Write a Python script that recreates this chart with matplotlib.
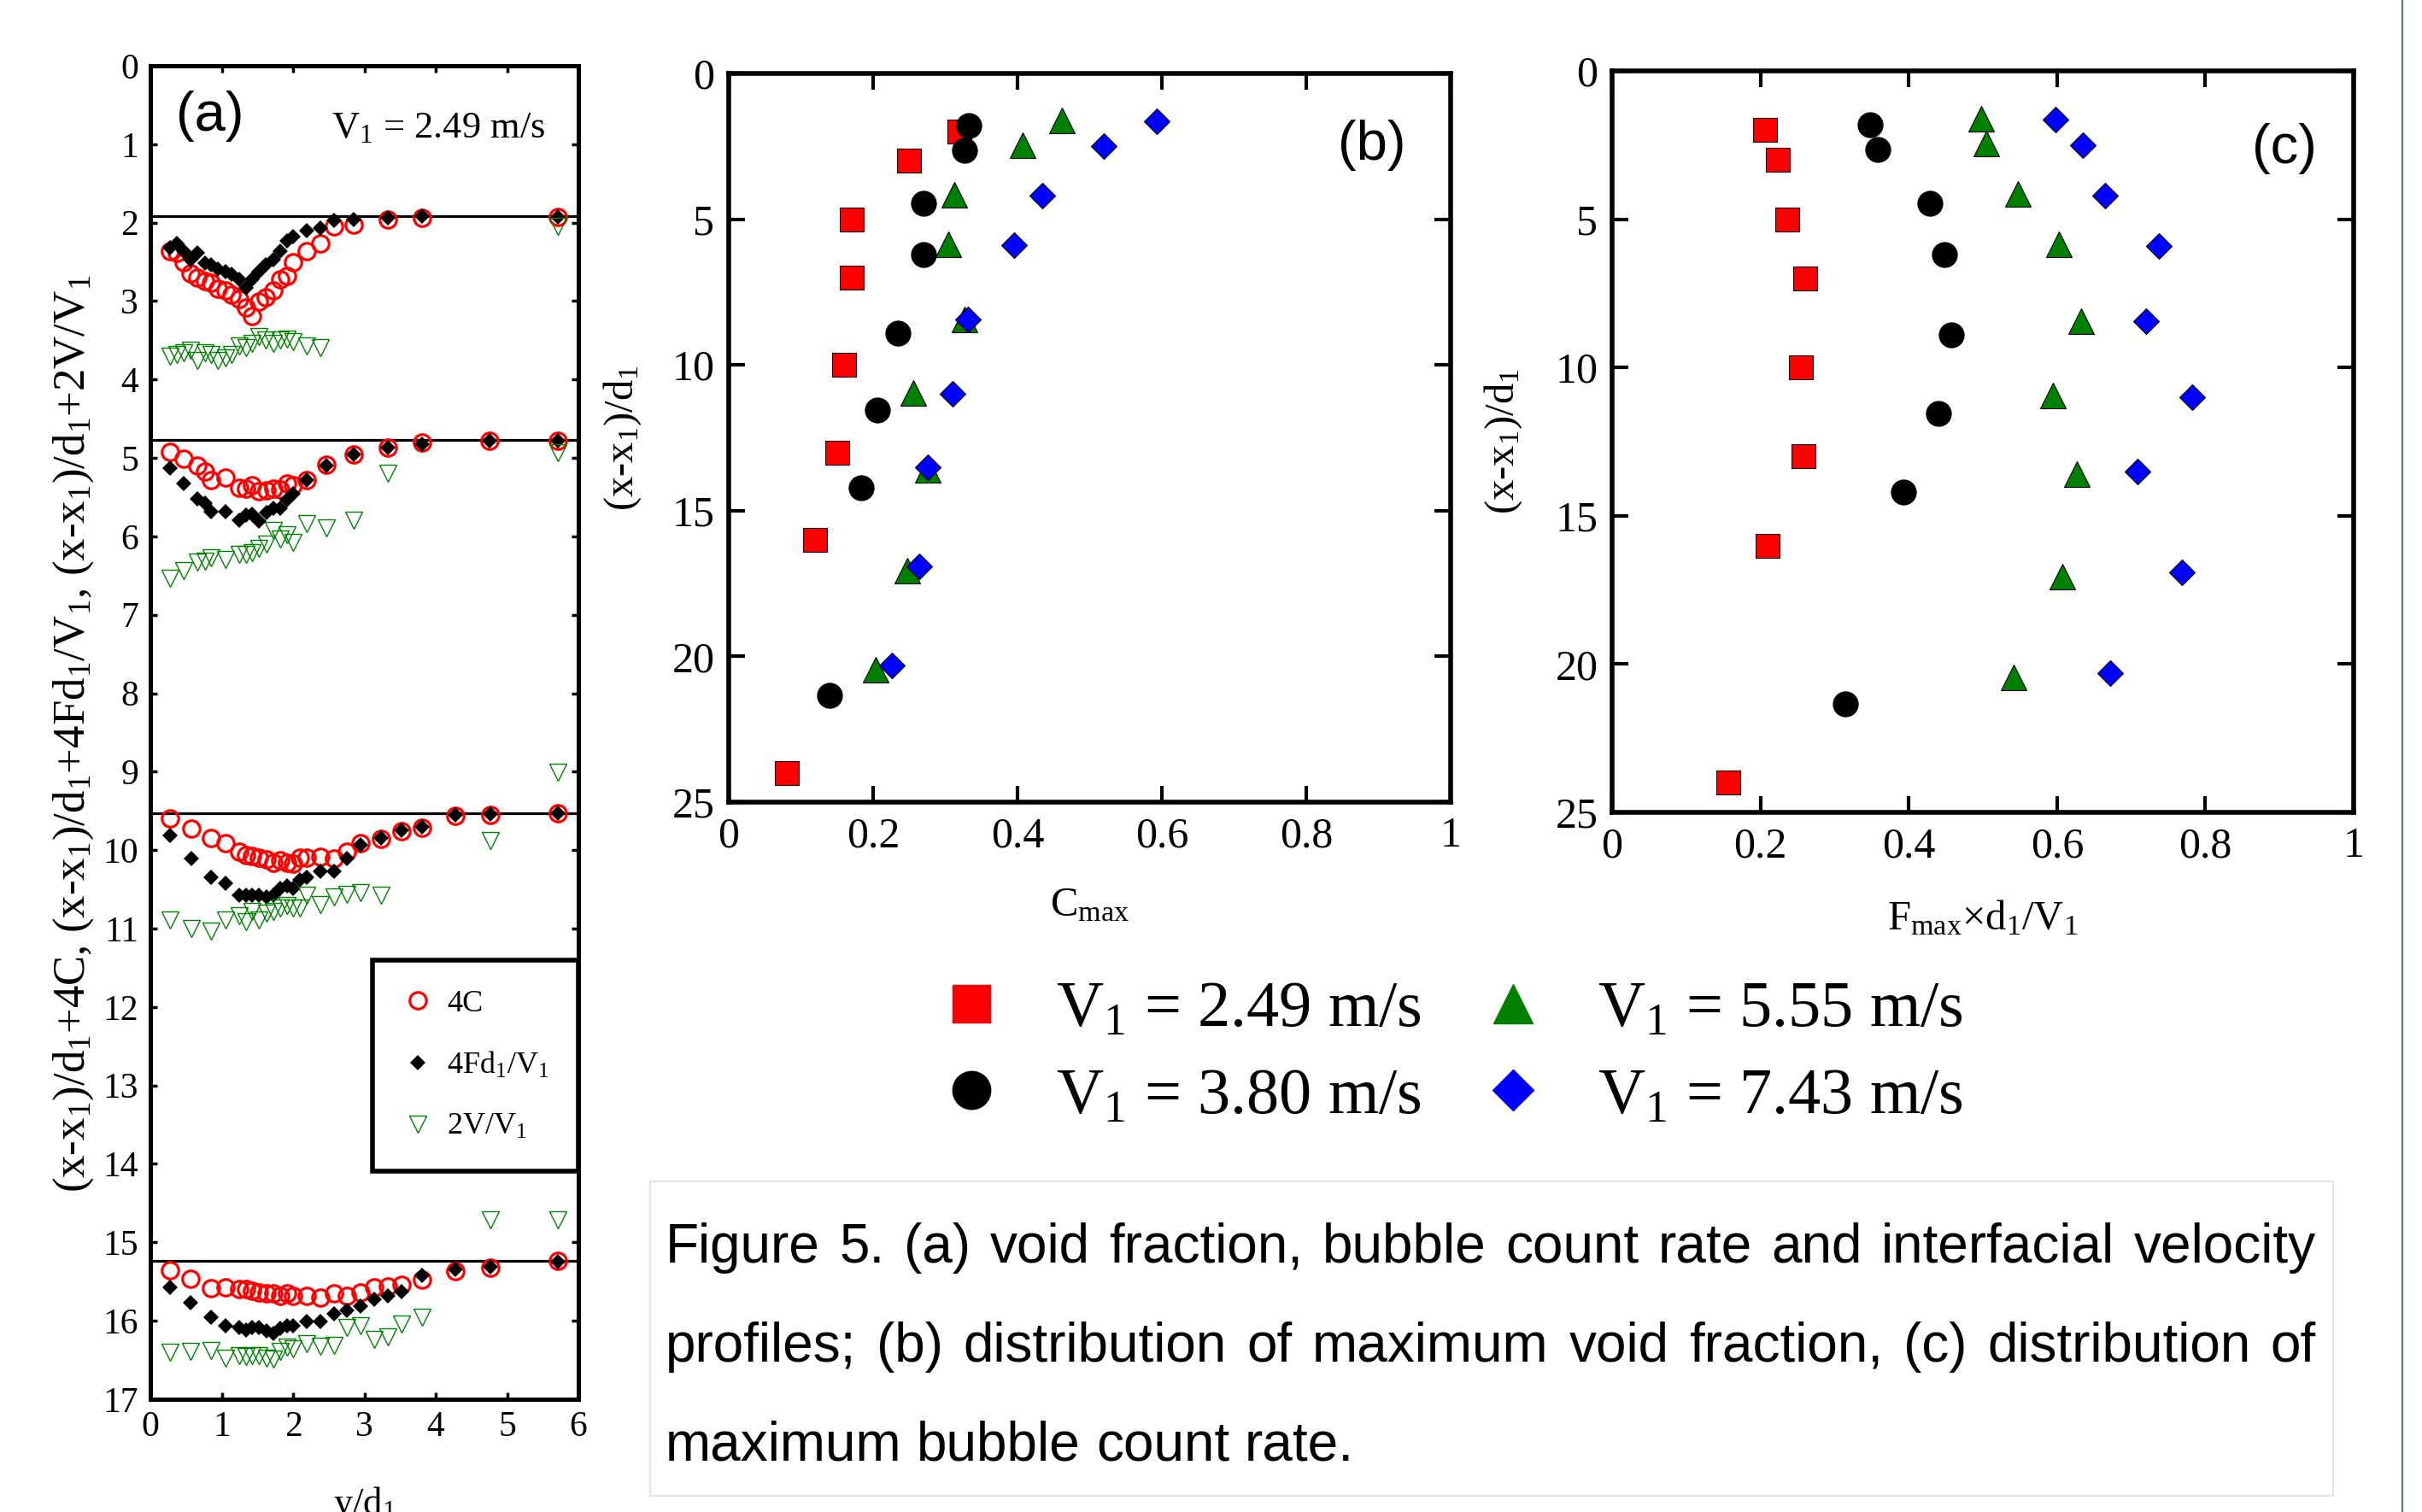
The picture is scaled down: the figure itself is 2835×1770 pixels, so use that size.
import matplotlib
matplotlib.use('Agg')
import matplotlib.pyplot as plt
from matplotlib.lines import Line2D
from matplotlib.patches import Rectangle

# Fig. 5 : profiles (a), max void fraction (b), max bubble count rate (c)

# ---- panel (a) data, vertical values are already
# (x-x1)/d1 + 4C, + 4Fd1/V1, + 2V/V1
baselines = [1.92, 4.77, 9.53, 15.24]

p1_pos = [0.27, 0.37, 0.47, 0.56, 0.66, 0.76, 0.85, 0.95, 1.05, 1.14, 1.24, 1.34, 1.43,
          1.52, 1.62, 1.72, 1.82, 1.91, 2.0, 2.19, 2.38, 2.57, 2.85, 3.33, 3.81, 5.71]
p1_c = [2.36, 2.39, 2.50, 2.65, 2.70, 2.74, 2.77, 2.84, 2.86, 2.92, 2.97, 3.08, 3.19,
        3.01, 2.95, 2.86, 2.72, 2.68, 2.50, 2.36, 2.27, 2.05, 2.03, 1.96, 1.94, 1.93]
p1_f = [2.32, 2.27, 2.36, 2.47, 2.39, 2.52, 2.54, 2.59, 2.63, 2.66, 2.72, 2.83, 2.72,
        2.63, 2.54, 2.47, 2.36, 2.23, 2.18, 2.10, 2.07, 1.97, 1.96, 1.94, 1.92, 1.93]
p1_vpos = [0.27, 0.37, 0.47, 0.56, 0.66, 0.76, 0.85, 0.95, 1.05, 1.14, 1.24, 1.34, 1.43,
           1.52, 1.62, 1.72, 1.82, 1.91, 2.0, 2.19, 2.38, 5.71]
p1_v = [3.70, 3.68, 3.66, 3.63, 3.76, 3.66, 3.68, 3.76, 3.72, 3.68, 3.57, 3.59, 3.54,
        3.45, 3.50, 3.54, 3.50, 3.48, 3.52, 3.57, 3.59, 2.05]

p2_pos = [0.28, 0.47, 0.66, 0.76, 0.85, 1.05, 1.24, 1.34, 1.43, 1.52, 1.63, 1.72, 1.82,
          1.91, 2.0, 2.19, 2.47, 2.85, 3.33, 3.81, 4.76, 5.71]
p2_c = [4.92, 5.01, 5.10, 5.17, 5.28, 5.25, 5.38, 5.39, 5.35, 5.42, 5.41, 5.39, 5.40,
        5.33, 5.35, 5.28, 5.09, 4.95, 4.87, 4.80, 4.78, 4.78]
p2_f = [5.13, 5.33, 5.52, 5.58, 5.68, 5.68, 5.79, 5.73, 5.72, 5.81, 5.70, 5.64, 5.64,
        5.53, 5.46, 5.28, 5.10, 4.95, 4.87, 4.82, 4.78, 4.78]
p2_vpos = [0.28, 0.47, 0.66, 0.76, 0.85, 1.05, 1.24, 1.34, 1.43, 1.52, 1.63, 1.72, 1.82,
           1.91, 2.0, 2.19, 2.47, 2.85, 3.33, 5.71]
p2_v = [6.53, 6.44, 6.33, 6.32, 6.27, 6.29, 6.23, 6.23, 6.21, 6.15, 6.10, 5.93, 6.03,
        5.98, 6.08, 5.84, 5.89, 5.79, 5.20, 4.93]

p3_pos = [0.28, 0.57, 0.85, 1.05, 1.24, 1.34, 1.43, 1.52, 1.63, 1.72, 1.82, 1.91, 2.0,
          2.10, 2.19, 2.38, 2.57, 2.75, 2.95, 3.23, 3.52, 3.81, 4.28, 4.77, 5.71]
p3_c = [9.60, 9.73, 9.84, 9.91, 10.02, 10.06, 10.07, 10.10, 10.12, 10.16, 10.13, 10.16, 10.17,
        10.10, 10.10, 10.09, 10.11, 10.02, 9.91, 9.86, 9.76, 9.71, 9.56, 9.55, 9.53]
p3_f = [9.81, 10.11, 10.35, 10.42, 10.58, 10.58, 10.58, 10.58, 10.60, 10.58, 10.49, 10.45, 10.49,
        10.38, 10.35, 10.27, 10.27, 10.11, 9.93, 9.84, 9.75, 9.70, 9.55, 9.54, 9.53]
p3_vpos = [0.28, 0.57, 0.85, 1.05, 1.24, 1.34, 1.43, 1.52, 1.63, 1.72, 1.82, 1.91, 2.0,
           2.10, 2.19, 2.38, 2.57, 2.75, 2.95, 3.23, 4.77, 5.71]
p3_v = [10.89, 11.00, 11.03, 10.89, 10.84, 10.91, 10.78, 10.89, 10.80, 10.78, 10.74, 10.71, 10.74,
        10.74, 10.57, 10.69, 10.60, 10.56, 10.54, 10.57, 9.88, 9.01]

p4_pos = [0.28, 0.56, 0.85, 1.05, 1.24, 1.34, 1.43, 1.52, 1.63, 1.72, 1.82, 1.91, 2.0,
          2.19, 2.38, 2.57, 2.75, 2.95, 3.14, 3.33, 3.52, 3.81, 4.28, 4.77, 5.71]
p4_c = [15.36, 15.47, 15.58, 15.57, 15.60, 15.60, 15.62, 15.64, 15.65, 15.65, 15.68, 15.65, 15.68,
        15.68, 15.70, 15.65, 15.68, 15.64, 15.57, 15.56, 15.54, 15.48, 15.37, 15.32, 15.24]
p4_f = [15.57, 15.77, 15.95, 16.06, 16.09, 16.12, 16.09, 16.09, 16.13, 16.16, 16.10, 16.06, 16.06,
        16.01, 16.01, 15.91, 15.87, 15.81, 15.73, 15.68, 15.63, 15.42, 15.35, 15.31, 15.25]
p4_vpos = [0.28, 0.56, 0.85, 1.05, 1.24, 1.34, 1.43, 1.52, 1.63, 1.72, 1.82, 1.91, 2.0,
           2.19, 2.38, 2.57, 2.75, 2.95, 3.14, 3.33, 3.52, 3.81, 4.77, 5.71]
p4_v = [16.40, 16.39, 16.38, 16.48, 16.45, 16.46, 16.45, 16.45, 16.48, 16.49, 16.39, 16.34, 16.36,
        16.29, 16.32, 16.31, 16.09, 16.06, 16.24, 16.20, 16.04, 15.95, 14.71, 14.71]

# ---- panels (b) and (c) : one list of positions per inflow velocity
v1_labels = ['V$_1$ = 2.49 m/s', 'V$_1$ = 3.80 m/s', 'V$_1$ = 5.55 m/s', 'V$_1$ = 7.43 m/s']
x249 = [2, 3, 5, 7, 10, 13, 16, 24]
x380 = [1.8, 2.65, 4.45, 6.2, 8.9, 11.55, 14.2, 21.35]
x555 = [1.6, 2.45, 4.15, 5.85, 8.45, 10.95, 13.6, 17.05, 20.45]
x743 = [1.65, 2.5, 4.2, 5.9, 8.45, 11.0, 13.5, 16.9, 20.3]

cmax249 = [0.32, 0.25, 0.17, 0.17, 0.16, 0.15, 0.12, 0.08]
cmax380 = [0.333, 0.326, 0.270, 0.270, 0.234, 0.206, 0.183, 0.139]
cmax555 = [0.461, 0.407, 0.312, 0.304, 0.326, 0.256, 0.276, 0.247, 0.203]
cmax743 = [0.593, 0.519, 0.434, 0.395, 0.331, 0.310, 0.276, 0.264, 0.226]

fmax249 = [0.206, 0.224, 0.236, 0.26, 0.255, 0.258, 0.21, 0.157]
fmax380 = [0.348, 0.358, 0.428, 0.448, 0.457, 0.44, 0.393, 0.315]
fmax555 = [0.4975, 0.505, 0.5475, 0.6025, 0.633, 0.594, 0.627, 0.607, 0.541]
fmax743 = [0.5975, 0.635, 0.665, 0.737, 0.72, 0.782, 0.708, 0.768, 0.672]

caption = ["Figure 5. (a) void fraction, bubble count rate and interfacial velocity",
           "profiles; (b) distribution of maximum void fraction, (c) distribution of",
           "maximum bubble count rate."]

plt.rcParams['font.family'] = ['Liberation Serif', 'DejaVu Serif']
plt.rcParams['mathtext.fontset'] = 'custom'
plt.rcParams['mathtext.rm'] = 'Liberation Serif'
plt.rcParams['mathtext.it'] = 'Liberation Serif:italic'

W, H = 2835, 1770
fig = plt.figure(figsize=(W / 100, H / 100), dpi=100)
fig.patch.set_facecolor('white')

GREEN = '#008000'

# ------------------------------------------------------------ panel (a)
axa = fig.add_axes([0.0621, 0.0746, 0.1767, 0.8819])
for b in baselines:
    axa.axhline(b, color='k', lw=2.3, zorder=1)

profiles = [(p1_pos, p1_c, p1_f, p1_vpos, p1_v),
            (p2_pos, p2_c, p2_f, p2_vpos, p2_v),
            (p3_pos, p3_c, p3_f, p3_vpos, p3_v),
            (p4_pos, p4_c, p4_f, p4_vpos, p4_v)]
for pos, c, f, vpos, v in profiles:
    hc, = axa.plot(pos, c, 'o', ls='none', mfc='none', mec='red', ms=14, mew=2.3, zorder=2)
    hf, = axa.plot(pos, f, 'D', ls='none', color='k', ms=9.5, mew=0, zorder=3)
    hv, = axa.plot(vpos, v, 'v', ls='none', mfc='none', mec=GREEN, ms=14, mew=1.0, zorder=4)

axa.set_xlim(0, 6)
axa.set_ylim(17, 0)
axa.set_xticks(range(7))
axa.set_yticks(range(18))
axa.tick_params(direction='in', top=True, right=True, length=6, width=2.5,
                labelsize=30, pad=10)
for s in axa.spines.values():
    s.set_linewidth(3.6)
axa.set_xlabel('y/d$_1$', fontsize=32)
axa.xaxis.set_label_coords(0.5, -0.064)
axa.set_ylabel('(x-x$_1$)/d$_1$+4C, (x-x$_1$)/d$_1$+4Fd$_1$/V$_1$, (x-x$_1$)/d$_1$+2V/V$_1$',
               fontsize=38, va='center')
axa.yaxis.set_label_coords(-0.18, 0.499)
axa.text(0.14, 0.962, '(a)', transform=axa.transAxes, fontsize=47,
         family='Liberation Sans', ha='center', va='center')
axa.text(0.673, 0.953, 'V$_1$ = 2.49 m/s', transform=axa.transAxes, fontsize=32,
         ha='center', va='center')
leg = axa.legend([hc, hf, hv], ['4C', '4Fd$_1$/V$_1$', '2V/V$_1$'], loc='upper right',
                 bbox_to_anchor=(1.0, 0.329), fontsize=26, frameon=True, fancybox=False,
                 edgecolor='k', framealpha=1, borderpad=0.95, labelspacing=1.05,
                 handlelength=1.0, handletextpad=0.45, borderaxespad=0)
leg.get_frame().set_linewidth(4)


# ------------------------------------------------------------ panels (b), (c)
def max_panel(ax, vals, xlabel, tag, tagpos):
    ax.plot(vals[0], x249, 's', ls='none', color='red', mec='k', mew=0.8, ms=20)
    ax.plot(vals[1], x380, 'o', ls='none', color='k', mec='k', mew=0.8, ms=21)
    ax.plot(vals[2], x555, '^', ls='none', color=GREEN, mec='k', mew=0.8, ms=22)
    ax.plot(vals[3], x743, 'D', ls='none', color='blue', mec='k', mew=0.8, ms=15.5)
    ax.set_xlim(0, 1)
    ax.set_ylim(25, 0)
    ax.set_xticks([0, 0.2, 0.4, 0.6, 0.8, 1])
    ax.set_xticklabels(['0', '0.2', '0.4', '0.6', '0.8', '1'])
    ax.set_yticks([0, 5, 10, 15, 20, 25])
    ax.tick_params(direction='in', top=True, right=True, length=14, width=3,
                   labelsize=36, pad=12)
    for s in ax.spines.values():
        s.set_linewidth(4)
    ax.set_xlabel(xlabel, fontsize=35)
    ax.xaxis.set_label_coords(0.5, -0.117)
    ax.set_ylabel('(x-x$_1$)/d$_1$', fontsize=35, va='center')
    ax.yaxis.set_label_coords(-0.147, 0.5)
    ax.text(tagpos[0], tagpos[1], tag, transform=ax.transAxes, fontsize=47,
            family='Liberation Sans', ha='center', va='center')


axb = fig.add_axes([0.3009, 0.4695, 0.2981, 0.4819])
max_panel(axb, [cmax249, cmax380, cmax555, cmax743], r'C$_{\mathrm{max}}$', '(b)', (0.891, 0.902))
axc = fig.add_axes([0.6656, 0.4627, 0.3062, 0.4904])
max_panel(axc, [fmax249, fmax380, fmax555, fmax743],
          r'F$_{\mathrm{max}}$×d$_1$/V$_1$', '(c)', (0.906, 0.895))

# shared legend for (b) and (c)
handles = [Line2D([], [], ls='none', marker='s', color='red', ms=31),
           Line2D([], [], ls='none', marker='o', color='k', ms=32),
           Line2D([], [], ls='none', marker='^', color=GREEN, ms=33),
           Line2D([], [], ls='none', marker='D', color='blue', ms=24)]
fig.legend(handles, [v1_labels[0], v1_labels[1], v1_labels[2], v1_labels[3]],
           ncol=2, loc='center', bbox_to_anchor=(0.599, 0.303), fontsize=55,
           frameon=False, handlelength=1.0, handletextpad=0.8, columnspacing=0.9,
           labelspacing=0.42)

# ------------------------------------------------------------ caption
fig.add_artist(Rectangle((761 / W, 1 - 1751 / H), 1970 / W, 368 / H, transform=fig.transFigure,
                         facecolor='white', edgecolor='#e4e4e4', lw=1.5, zorder=0))
renderer = fig.canvas.get_renderer()
cap_left, cap_right = 779 / W, 2711 / W
baselines_cap = [1 - 1478 / H, 1 - 1594 / H, 1 - 1709 / H]
for i, line in enumerate(caption):
    words = line.split(' ')
    texts = [fig.text(0, baselines_cap[i], w, fontsize=46, family='Liberation Sans',
                      va='baseline', ha='left') for w in words]
    widths = [t.get_window_extent(renderer).width / W for t in texts]
    if i < len(caption) - 1:
        gap = (cap_right - cap_left - sum(widths)) / (len(words) - 1)
    else:
        gap = 0.278 * 46 * 100 / 72 / W
    x = cap_left
    for t, w in zip(texts, widths):
        t.set_x(x)
        x += w + gap

# thin page border at the right edge
fig.add_artist(Line2D([2812 / W, 2812 / W], [0, 1], transform=fig.transFigure,
                      color='#5673a6', lw=1.5))

fig.savefig('out.png', dpi=100)
